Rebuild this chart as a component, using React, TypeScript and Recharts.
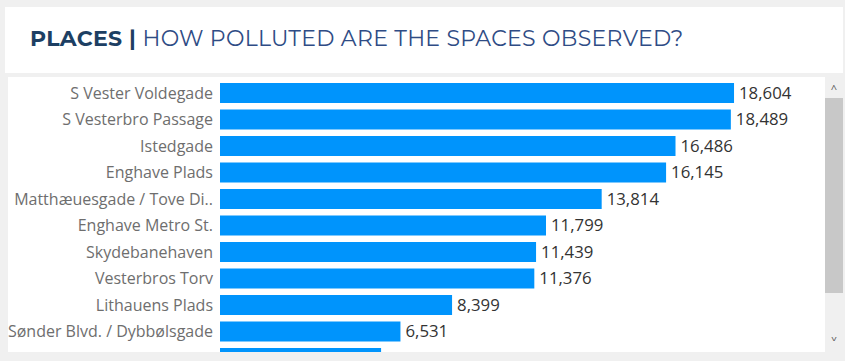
import React from "react";
import { BarChart, Bar, XAxis, YAxis, LabelList } from "recharts";

const places = [
  "S Vester Voldegade",
  "S Vesterbro Passage",
  "Istedgade",
  "Enghave Plads",
  "Matthæuesgade / Tove Di..",
  "Enghave Metro St.",
  "Skydebanehaven",
  "Vesterbros Torv",
  "Lithauens Plads",
  "Sønder Blvd. / Dybbølsgade",
  "Halmtorvet",
];
const counts = [18604, 18489, 16486, 16145, 13814, 11799, 11439, 11376, 8399, 6531, 5830];

const data = places.map((p, i) => ({ place: p, count: counts[i] }));

const fmt = (v: any) => Number(v).toLocaleString("en-US");
const FONT = "'Open Sans', sans-serif";

export default function App() {
  return (
    <div style={{ position: "absolute", left: 0, top: 0, width: 845, height: 361, background: "#f0f0f0", overflow: "hidden" }}>
      <div style={{ position: "absolute", left: 5, top: 7, width: 838, height: 66, background: "#fff" }}>
        <div style={{ position: "absolute", left: 25, top: 18, fontFamily: "'Montserrat', 'Open Sans', sans-serif", fontSize: 22, whiteSpace: "nowrap", letterSpacing: 0.3 }}>
          <span style={{ fontWeight: 700, color: "#1d3f63" }}>PLACES | </span>
          <span style={{ color: "#2f4c85" }}>HOW POLLUTED ARE THE SPACES OBSERVED?</span>
        </div>
      </div>
      <div style={{ position: "absolute", left: 8, top: 77, width: 835, height: 275, background: "#fff", overflow: "hidden" }}>
        <BarChart
          width={817}
          height={295}
          data={data}
          layout="vertical"
          margin={{ top: 2.7, right: 52.4, bottom: 0.8, left: 0 }}
          barCategoryGap="12.3%"
        >
          <XAxis type="number" domain={[0, 20000]} hide />
          <YAxis
            type="category"
            dataKey="place"
            width={212}
            axisLine={false}
            tickLine={false}
            tickSize={0}
            tickMargin={7}
            interval={0}
            tick={{ fill: "#6e6e6e", fontSize: 16, fontFamily: FONT }}
          />
          <Bar dataKey="count" fill="#0094fc" isAnimationActive={false}>
            <LabelList dataKey="count" position="right" offset={5} formatter={fmt} style={{ fill: "#333", fontSize: 16.8, fontFamily: FONT }} />
          </Bar>
        </BarChart>
        <div style={{ position: "absolute", left: 817, top: 0, width: 18, height: 275, background: "#f0f0f0" }}>
          <div style={{ position: "absolute", left: 0, top: 21, width: 18, height: 195, background: "#c8c8c8" }} />
          <div style={{ position: "absolute", left: 0, top: 4, width: 18, textAlign: "center", fontSize: 11, color: "#555", fontFamily: FONT }}>^</div>
          <div style={{ position: "absolute", left: 0, top: 254, width: 18, textAlign: "center", fontSize: 10, color: "#555", fontFamily: FONT, transform: "scaleY(0.7)" }}>v</div>
        </div>
      </div>
    </div>
  );
}
